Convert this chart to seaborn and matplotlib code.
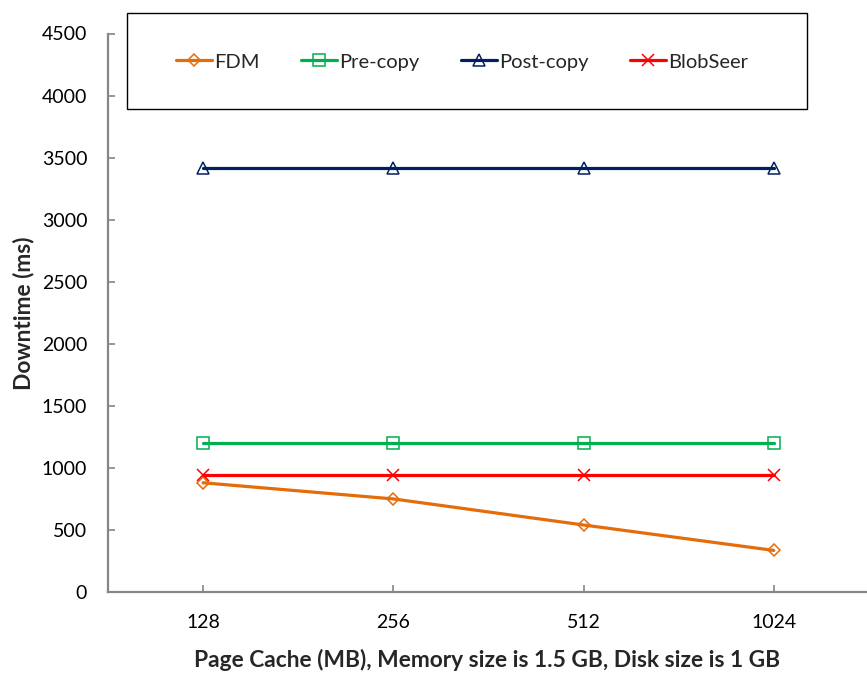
import matplotlib
matplotlib.use("Agg")
import matplotlib.pyplot as plt
from matplotlib.patches import Rectangle
import seaborn as sns
import pandas as pd

# Data: downtime (ms) per page-cache size
cache_sizes = ["128", "256", "512", "1024"]
fdm = [880, 750, 540, 335]
pre_copy = [1200, 1200, 1200, 1200]
post_copy = [3420, 3420, 3420, 3420]
blobseer = [940, 940, 940, 940]
series_names = ["FDM", "Pre-copy", "Post-copy", "BlobSeer"]
y_ticks = [0, 500, 1000, 1500, 2000, 2500, 3000, 3500, 4000, 4500]

colors = {"FDM": "#E46C0A", "Pre-copy": "#00B050",
          "Post-copy": "#002060", "BlobSeer": "#FF0000"}
markers = {"FDM": "D", "Pre-copy": "s", "Post-copy": "^", "BlobSeer": "x"}
marker_sizes = {"FDM": 6.5, "Pre-copy": 8.5, "Post-copy": 8.5, "BlobSeer": 9}

sns.set_theme(style="white")
plt.rcParams["font.family"] = ["Lato", "DejaVu Sans"]

fig = plt.figure(figsize=(8.67, 6.73), dpi=100)
ax = fig.add_axes([108 / 867, 81 / 673, 1 - 108 / 867, 558.5 / 673])

handles = []
for name, vals in zip(series_names, [fdm, pre_copy, post_copy, blobseer]):
    d = pd.DataFrame({"cache": pd.Categorical(cache_sizes, categories=cache_sizes, ordered=True),
                      "downtime": vals})
    c = colors[name]
    sns.lineplot(data=d, x="cache", y="downtime", color=c, marker=markers[name],
                 markersize=marker_sizes[name], markerfacecolor="none",
                 markeredgecolor=c, markeredgewidth=1.1, sort=False,
                 errorbar=None, linewidth=2.3, ax=ax)
    handles.append(ax.lines[-1])

ax.set_xlim(-0.5, 3.49)
ax.set_ylim(0, 4500)
ax.set_yticks(y_ticks)
ax.set_yticklabels([str(v) for v in y_ticks])

spine_color = "#868686"
for side in ["top", "right"]:
    ax.spines[side].set_visible(False)
for side in ["left", "bottom"]:
    ax.spines[side].set_color(spine_color)
    ax.spines[side].set_linewidth(1.6)

ax.tick_params(axis="both", direction="in", length=5, width=1.2,
               color=spine_color, labelsize=14, labelcolor="black")
ax.tick_params(axis="y", pad=15, left=True)
ax.tick_params(axis="x", pad=16, bottom=True)

ax.set_xlabel("Page Cache (MB), Memory size is 1.5 GB, Disk size is 1 GB",
              fontsize=16.4, fontweight="bold", labelpad=13)
ax.set_ylabel("Downtime (ms)", fontsize=16.4, fontweight="bold", labelpad=5)

# Legend box
fig.patches.append(Rectangle((127 / 867, 1 - 109 / 673), 680 / 867, 96 / 673,
                             transform=fig.transFigure, fill=False,
                             edgecolor="black", linewidth=1.0))
fig.legend(handles=handles, labels=series_names, ncol=4,
           loc="center", bbox_to_anchor=(462 / 867, 1 - 62 / 673),
           frameon=False, fontsize=14.5, handlelength=1.8,
           handletextpad=0.1, columnspacing=2.05)

fig.savefig("out.png", dpi=100)
